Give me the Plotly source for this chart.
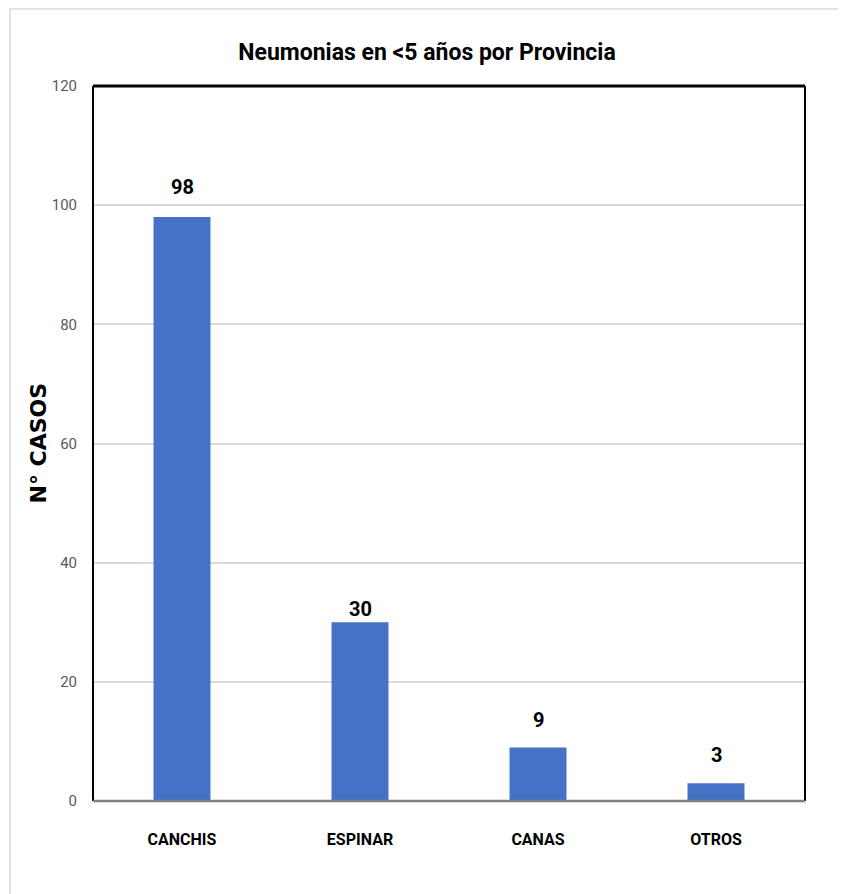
import plotly.graph_objects as go

categories = ["CANCHIS", "ESPINAR", "CANAS", "OTROS"]
values = [98, 30, 9, 3]
y_ticks = [0, 20, 40, 60, 80, 100, 120]

# style: vertical offset (px) of each value label above its bar
label_shift = [30, 13, 27, 28]

FONT = "Roboto, Liberation Sans, Arial, sans-serif"

# page body has an 8px margin; figure coords = screen - 8
W, H = 838, 886
L, R, T, B = 85, 41, 78, 93
pw, ph = W - L - R, H - T - B

def px(x):
    return (x - L) / pw

def py(y):
    return (H - B - y) / ph

fig = go.Figure(go.Bar(
    x=categories, y=values,
    marker=dict(color="#4472C4", line=dict(width=0)),
    width=0.32,
    hoverinfo="x+y",
))

for c, v, s in zip(categories, values, label_shift):
    fig.add_annotation(x=c, y=v, xref="x", yref="y", text=f"<b>{v}</b>", showarrow=False,
                       yanchor="middle", yshift=s,
                       font=dict(family=FONT, size=20, color="black"))

fig.update_layout(
    width=W, height=H,
    margin=dict(l=L, r=R, t=T, b=B),
    paper_bgcolor="white", plot_bgcolor="white",
    showlegend=False,
    title=dict(text="<b>Neumonias en <5 años por Provincia</b>", x=419 / W, xref="container",
               xanchor="center", y=1 - 44 / H, yanchor="middle",
               font=dict(family=FONT, size=23, color="black")),
    xaxis=dict(showgrid=False, tickfont=dict(family=FONT, size=16, color="black", weight="bold"),
               ticks="", showline=False, zeroline=False, ticklabelstandoff=27),
    yaxis=dict(range=[0, 120], tickvals=y_ticks, showgrid=True, gridcolor="#D9D9D9", gridwidth=1.5,
               tickfont=dict(family=FONT, size=15, color="#595959"),
               ticks="", ticklabelstandoff=15, zeroline=False, showline=False),
)

# y-axis title
fig.add_annotation(x=px(30), y=0.5, xref="paper", yref="paper", text="<b>N° CASOS</b>",
                   textangle=-90, showarrow=False, xanchor="center", yanchor="middle",
                   font=dict(family="DejaVu Sans, Verdana, sans-serif", size=22, color="black"))

# plot-area frame (black top/left/right, gray bottom axis)
fig.add_shape(type="line", xref="paper", yref="paper", x0=0, x1=1, y0=1, y1=1, line=dict(color="black", width=3))
fig.add_shape(type="line", xref="paper", yref="paper", x0=0, x1=0, y0=0, y1=1, line=dict(color="black", width=2))
fig.add_shape(type="line", xref="paper", yref="paper", x0=1, x1=1, y0=0, y1=1, line=dict(color="black", width=2))
fig.add_shape(type="line", xref="paper", yref="paper", x0=0, x1=1, y0=0, y1=0, line=dict(color="#808080", width=2.5))

# outer chart frame
fig.add_shape(type="rect", xref="paper", yref="paper", x0=px(2), x1=px(834), y0=py(H + 10), y1=py(1),
              line=dict(color="#D9D9D9", width=1.5), fillcolor="rgba(0,0,0,0)", layer="below")

fig.write_html("out.html")
